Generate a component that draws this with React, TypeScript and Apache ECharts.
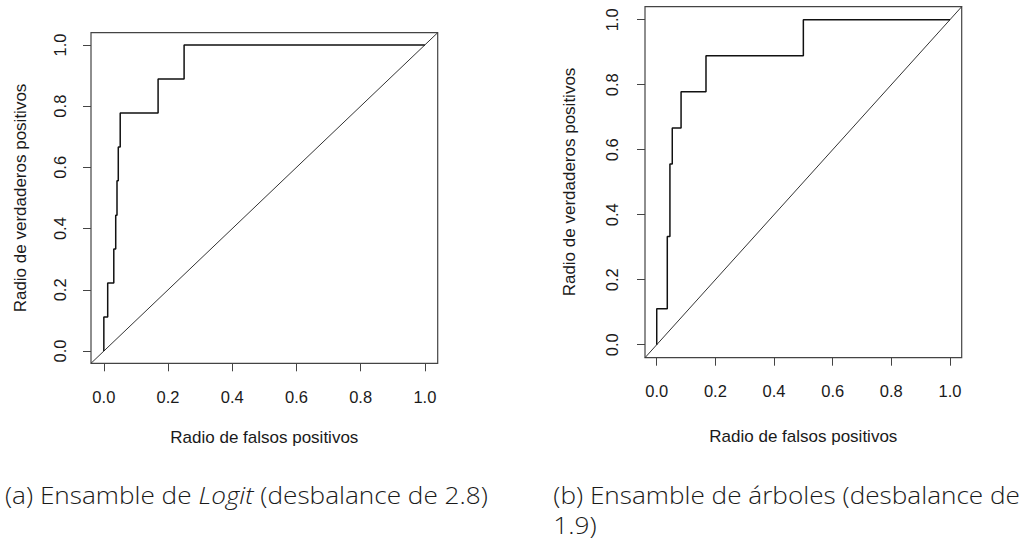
import React, { useEffect, useRef } from "react";
import * as echarts from "echarts";

// ROC curve (a): Ensamble de Logit — corner points
const fprA = [0, 0, 0.012, 0.031, 0.037, 0.041, 0.045, 0.051, 0.169, 0.25, 1.0];
const tprA = [0, 0.111, 0.222, 0.333, 0.444, 0.556, 0.667, 0.778, 0.889, 1.0, 1.0];

// ROC curve (b): Ensamble de árboles
const fprB = [0, 0, 0.036, 0.045, 0.053, 0.083, 0.168, 0.5, 1.0];
const tprB = [0, 0.111, 0.333, 0.556, 0.667, 0.778, 0.889, 1.0, 1.0];

const tickValues = [0, 0.2, 0.4, 0.6, 0.8, 1.0];
const axisMin = -0.04;
const axisMax = 1.04;

const xTitle = "Radio de falsos positivos";
const yTitle = "Radio de verdaderos positivos";
const capA1 = "(a) Ensamble de ";
const capAItalic = "Logit";
const capA2 = " (desbalance de 2.8)";
const capB1 = "(b) Ensamble de árboles (desbalance de";
const capB2 = "1.9)";

const capFont = '"Open Sans", "DejaVu Sans", sans-serif';
const capSize = 23;
const capWeight = 300;
const axisFont = '"Liberation Sans", Arial, sans-serif';

function measure(text: string, font: string): number {
  const c = document.createElement("canvas").getContext("2d");
  if (!c) return text.length * 10;
  c.font = font;
  return c.measureText(text).width;
}

export default function App() {
  const ref = useRef<HTMLDivElement>(null);

  useEffect(() => {
    if (!ref.current) return;
    const chart = echarts.init(ref.current, undefined, { renderer: "svg" });

    const wA =
      measure(capA1, `${capWeight} ${capSize}px ${capFont}`) +
      measure(capAItalic, `italic ${capWeight} ${capSize}px ${capFont}`) +
      measure(capA2, `${capWeight} ${capSize}px ${capFont}`);
    const sx = 483 / wA;

    const grids = [
      { left: 91, top: 32.7, width: 346.7, height: 330.6, ylm: 22.5 },
      { left: 645, top: 6.7, width: 316.7, height: 351, ylm: 24.5 },
    ];

    const tick = {
      show: true,
      customValues: tickValues,
      length: 8,
      lineStyle: { color: "#444", width: 1 },
    };

    const mkX = (i: number) => ({
      gridIndex: i,
      type: "value",
      position: "bottom",
      min: axisMin,
      max: axisMax,
      axisLine: { show: false, onZero: false },
      splitLine: { show: false },
      axisTick: tick,
      axisLabel: {
        customValues: tickValues,
        formatter: (v: number) => v.toFixed(1),
        margin: 25,
        fontSize: 16.5,
        color: "#1a1a1a",
        fontFamily: axisFont,
      },
    });
    const mkY = (i: number) => ({
      gridIndex: i,
      type: "value",
      position: "left",
      min: axisMin,
      max: axisMax,
      axisLine: { show: false, onZero: false },
      splitLine: { show: false },
      axisTick: tick,
      axisLabel: {
        customValues: tickValues,
        formatter: (v: number) => v.toFixed(1),
        margin: grids[i].ylm,
        rotate: 90,
        fontSize: 16.5,
        color: "#1a1a1a",
        fontFamily: axisFont,
      },
    });

    const roc = (fpr: number[], tpr: number[], i: number) => ({
      type: "line",
      xAxisIndex: i,
      yAxisIndex: i,
      data: fpr.map((x, k) => [x, tpr[k]]),
      step: "end",
      symbol: "none",
      lineStyle: { color: "#111", width: 1.5 },
      z: 3,
    });
    const diag = (i: number) => ({
      type: "line",
      xAxisIndex: i,
      yAxisIndex: i,
      data: [
        [axisMin, axisMin],
        [axisMax, axisMax],
      ],
      symbol: "none",
      clip: true,
      lineStyle: { color: "#333", width: 1 },
      z: 2,
    });

    const titleStyle = {
      fontSize: 17,
      fontFamily: axisFont,
      fill: "#1a1a1a",
      align: "center",
      verticalAlign: "middle",
    };

    const capStyle = {
      fontSize: capSize,
      fontFamily: capFont,
      fontWeight: capWeight,
      fill: "#1a1a1a",
      align: "left",
      verticalAlign: "middle",
    };

    chart.setOption({
      animation: false,
      backgroundColor: "#ffffff",
      grid: grids.map((g) => ({
        left: g.left,
        top: g.top,
        width: g.width,
        height: g.height,
        show: true,
        borderColor: "#444",
        borderWidth: 1.2,
        backgroundColor: "transparent",
        containLabel: false,
      })),
      xAxis: [mkX(0), mkX(1)],
      yAxis: [mkY(0), mkY(1)],
      series: [diag(0), roc(fprA, tprA, 0), diag(1), roc(fprB, tprB, 1)],
      graphic: [
        { type: "text", x: 264.3, y: 437.5, style: { text: xTitle, ...titleStyle } },
        { type: "text", x: 803.3, y: 436, style: { text: xTitle, ...titleStyle } },
        {
          type: "text",
          x: 20,
          y: 198,
          rotation: Math.PI / 2,
          style: { text: yTitle, ...titleStyle },
        },
        {
          type: "text",
          x: 569.5,
          y: 182,
          rotation: Math.PI / 2,
          style: { text: yTitle, ...titleStyle },
        },
        {
          type: "text",
          x: 5,
          y: 495.5,
          scaleX: sx,
          style: {
            text: `${capA1}{it|${capAItalic}}${capA2}`,
            ...capStyle,
            rich: {
              it: {
                fontStyle: "italic",
                fontSize: capSize,
                fontFamily: capFont,
                fontWeight: capWeight,
                fill: "#1a1a1a",
              },
            },
          },
        },
        {
          type: "text",
          x: 553.3,
          y: 495.5,
          scaleX: sx,
          style: { text: capB1, ...capStyle },
        },
        {
          type: "text",
          x: 553.3,
          y: 525.5,
          scaleX: sx,
          style: { text: capB2, ...capStyle },
        },
      ],
    });

    return () => chart.dispose();
  }, []);

  return (
    <div
      ref={ref}
      style={{ position: "fixed", left: 0, top: 0, width: 1021, height: 541 }}
    />
  );
}
